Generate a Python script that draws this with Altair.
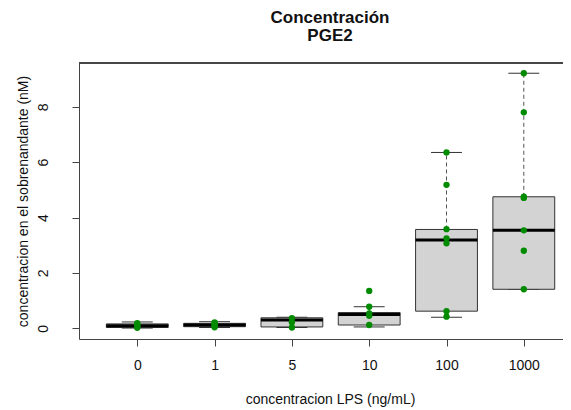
import altair as alt
import pandas as pd

groups = ["0", "1", "5", "10", "100", "1000"]
positions = [1, 2, 3, 4, 5, 6]

# box statistics
whisk_lo = [0.01, 0.03, 0.03, 0.05, 0.40, 1.41]
q1 = [0.03, 0.06, 0.05, 0.12, 0.62, 1.41]
median = [0.09, 0.12, 0.30, 0.50, 3.19, 3.54]
q3 = [0.16, 0.18, 0.38, 0.57, 3.57, 4.75]
whisk_hi = [0.23, 0.24, 0.40, 0.78, 6.35, 9.21]

# individual observations (stripchart points)
pts_0 = [0.02, 0.06, 0.10, 0.14, 0.19]
pts_1 = [0.04, 0.09, 0.13, 0.17, 0.21]
pts_5 = [0.03, 0.22, 0.37]
pts_10 = [0.12, 0.45, 0.54, 0.78, 1.35]
pts_100 = [0.42, 0.62, 3.07, 3.25, 3.58, 5.18, 6.35]
pts_1000 = [1.41, 2.80, 3.54, 4.71, 4.75, 7.80, 9.21]

y_domain = [-0.385, 9.58]
x_domain = [0.246, 6.507]

box_df = pd.DataFrame({
    "pos": positions, "grp": groups, "lo": whisk_lo, "q1": q1,
    "med": median, "q3": q3, "hi": whisk_hi,
})

all_pts = [pts_0, pts_1, pts_5, pts_10, pts_100, pts_1000]
pt_rows = []
for p, g, vals in zip(positions, groups, all_pts):
    for v in vals:
        pt_rows.append({"pos": p, "grp": g, "val": v})
pt_df = pd.DataFrame(pt_rows)

label_expr = "[" + ",".join("'" + g + "'" for g in groups) + "][datum.value - 1]"

font = "Liberation Sans"
axis_color = "#444444"

xscale = alt.Scale(domain=x_domain, nice=False, zero=False)
yscale = alt.Scale(domain=y_domain, nice=False, zero=False)

x_axis = alt.Axis(
    values=positions, labelExpr=label_expr, grid=False,
    title="concentracion LPS (ng/mL)", titleX=251, titleY=60,
    titleBaseline="middle", titleFont=font, titleFontSize=14,
    titleFontWeight="normal", titleColor="#111111",
    labelFont=font, labelFontSize=14, labelColor="#111111",
    labelBaseline="middle", labelPadding=19, tickSize=7,
    tickColor=axis_color, domainColor=axis_color,
)
y_axis = alt.Axis(
    values=[0, 2, 4, 6, 8], grid=False,
    title="concentracion en el sobrenandante (nM)",
    titleX=-56, titleY=138, titleAngle=-90, titleAlign="center",
    titleBaseline="middle", titleFont=font, titleFontSize=14,
    titleFontWeight="normal", titleColor="#111111",
    labelFont=font, labelFontSize=14, labelColor="#111111",
    labelAngle=-90, labelAlign="center", labelBaseline="middle",
    labelPadding=29, tickSize=7,
    tickColor=axis_color, domainColor=axis_color,
)

base = alt.Chart(box_df).transform_calculate(
    bl="datum.pos - 0.4", br="datum.pos + 0.4",
    sl="datum.pos - 0.2", sr="datum.pos + 0.2",
)

whisk_up = base.mark_rule(color="#555555", strokeDash=[4, 3], strokeWidth=1).encode(
    x=alt.X("pos:Q", scale=xscale, axis=x_axis),
    y=alt.Y("q3:Q", scale=yscale, axis=y_axis),
    y2="hi:Q",
)
whisk_dn = base.mark_rule(color="#555555", strokeDash=[4, 3], strokeWidth=1).encode(
    x=alt.X("pos:Q", scale=xscale), y=alt.Y("lo:Q", scale=yscale), y2="q1:Q",
)
staple_hi = base.mark_rule(color="#333333", strokeWidth=1).encode(
    x=alt.X("sl:Q", scale=xscale), x2="sr:Q", y=alt.Y("hi:Q", scale=yscale),
)
staple_lo = base.mark_rule(color="#333333", strokeWidth=1).encode(
    x=alt.X("sl:Q", scale=xscale), x2="sr:Q", y=alt.Y("lo:Q", scale=yscale),
)
boxes = base.mark_rect(fill="#d3d3d3", stroke="#333333", strokeWidth=1).encode(
    x=alt.X("bl:Q", scale=xscale), x2="br:Q",
    y=alt.Y("q1:Q", scale=yscale), y2="q3:Q",
)
medians = base.mark_rule(color="#000000", strokeWidth=3).encode(
    x=alt.X("bl:Q", scale=xscale), x2="br:Q", y=alt.Y("med:Q", scale=yscale),
)
points = alt.Chart(pt_df).mark_circle(color="#008B00", opacity=1, size=40).encode(
    x=alt.X("pos:Q", scale=xscale), y=alt.Y("val:Q", scale=yscale),
)
top_line = alt.Chart(box_df).mark_rule(color=axis_color, strokeWidth=1).encode(
    y=alt.datum(y_domain[1], scale=yscale),
)

chart = alt.layer(
    whisk_up, whisk_dn, staple_hi, staple_lo, boxes, medians, points, top_line
).properties(
    width=484, height=276,
    title=alt.TitleParams(
        text=["Concentración", "PGE2"], font=font, fontSize=17,
        fontWeight="bold", color="#111111", anchor="middle", dx=9,
        lineHeight=18, offset=18,
    ),
    autosize="none",
    padding={"left": 71, "top": 55, "right": 0, "bottom": 70},
).configure_view(stroke=None)

chart.save("out.html", embed_options={"renderer": "svg", "actions": False})
